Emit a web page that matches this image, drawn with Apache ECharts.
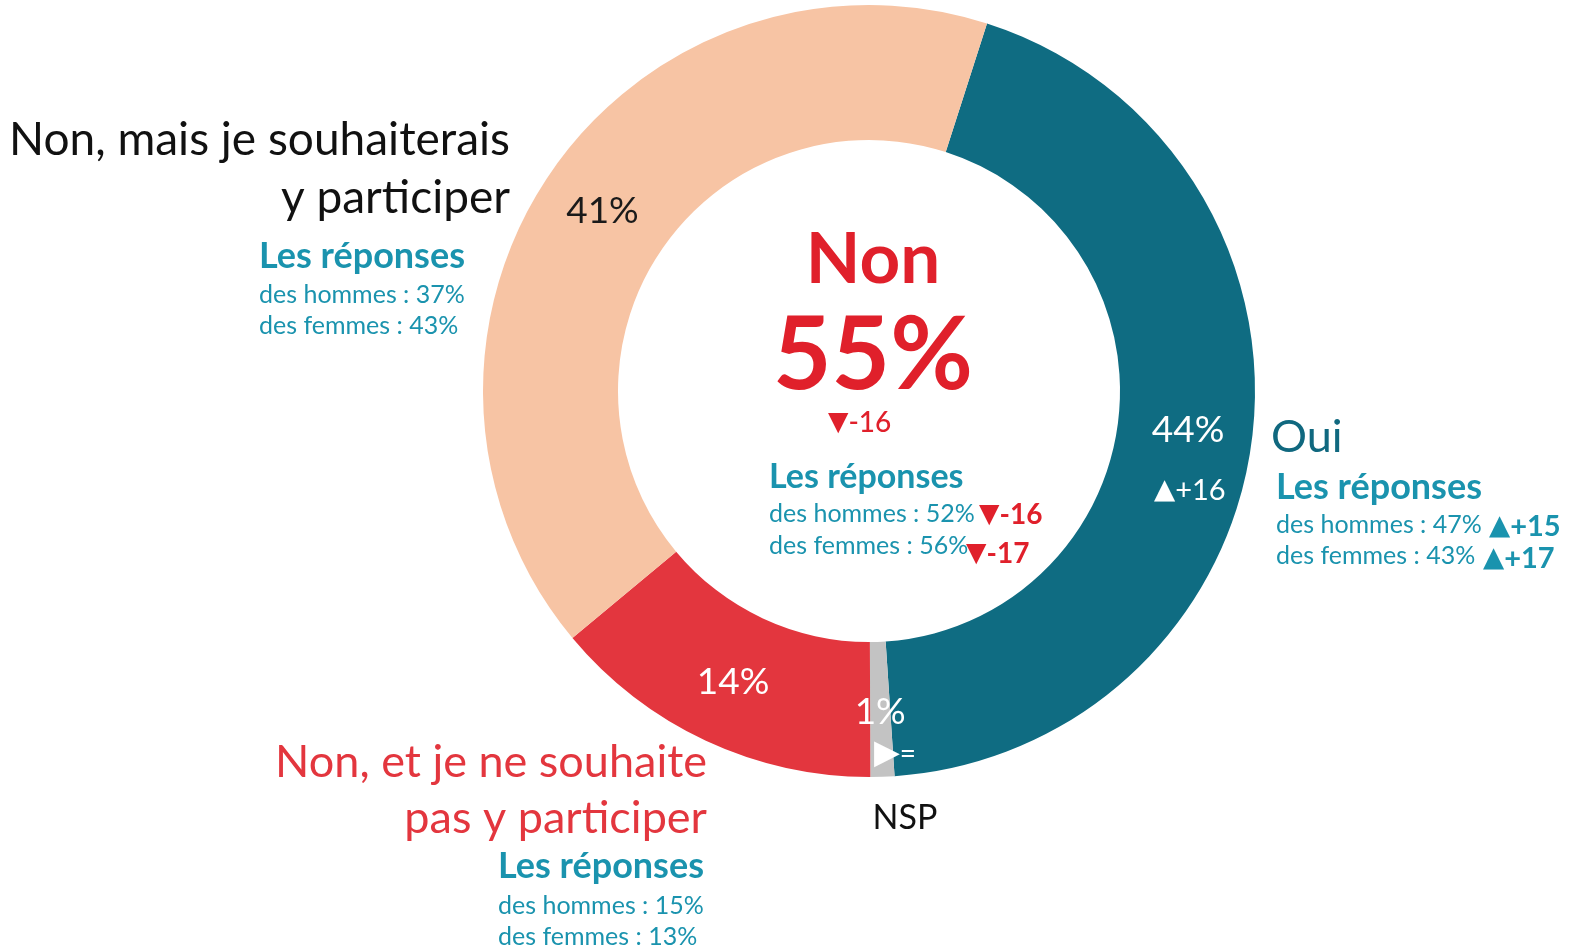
<!DOCTYPE html>
<html>
<head>
<meta charset="utf-8">
<script src="https://cdn.jsdelivr.net/npm/echarts@6/dist/echarts.min.js"></script>
<style>
  html, body { margin: 0; padding: 0; background: #ffffff; }
  #chart { width: 1571px; height: 952px; }
</style>
</head>
<body>
<div id="chart"></div>
<script>
// Survey answers, in the clockwise order of the ring
const categories = ['Oui', 'NSP', 'Non, et je ne souhaite pas y participer', 'Non, mais je souhaiterais y participer'];
const values = [44, 1, 14, 41];
const deltas = ['+16', '=', null, null];
const menShares = [47, null, 15, 37];
const womenShares = [43, null, 13, 43];
const menDeltas = ['+15', null, null, null];
const womenDeltas = ['+17', null, null, null];
// Combined "Non" block in the middle of the ring
const nonDelta = '-16';
const nonMenShare = 52, nonWomenShare = 56;
const nonMenDelta = '-16', nonWomenDelta = '-17';

const sliceColors = ['#0f6c82', '#c3c3c3', '#e3363e', '#f7c4a4'];
const labelColors = ['#ffffff', '#ffffff', '#ffffff', '#1a1a1a'];
const TEAL = '#1a93ae';
const RED = '#e0202b';
const FONT = 'Lato, "Noto Sans", sans-serif';

const nonTotal = values[2] + values[3];

function txt(x, y, text, size, color, opts) {
  opts = opts || {};
  return {
    type: 'text', x: x, y: y, z: 100, silent: true,
    style: {
      text: text, fill: color,
      fontSize: size, fontFamily: FONT, fontWeight: opts.weight || 'normal',
      align: opts.align || 'left', textAlign: opts.align || 'left',
      verticalAlign: 'middle', textVerticalAlign: 'middle'
    }
  };
}
// triangle marker + number
function delta(x, y, text, size, color, dir, weight, triScale) {
  const tri = dir === 'up' ? '\u25B2' : dir === 'down' ? '\u25BC' : '\u25B6';
  return {
    type: 'text', x: x, y: y, z: 100, silent: true,
    style: {
      text: '{t|' + tri + '}{n|' + text + '}',
      align: 'left', textAlign: 'left', verticalAlign: 'middle', textVerticalAlign: 'middle',
      rich: {
        t: { fontFamily: '"DejaVu Sans"', fontSize: size * (triScale || 0.95), fill: color, color: color },
        n: { fontFamily: FONT, fontSize: size, fontWeight: weight || 'normal', fill: color, color: color }
      }
    }
  };
}

const graphics = [
  // Non, mais je souhaiterais y participer
  txt(510, 140, 'Non, mais je souhaiterais', 46, '#111111', { align: 'right' }),
  txt(510, 198, 'y participer', 46, '#111111', { align: 'right' }),
  txt(259, 256, 'Les réponses', 36, TEAL, { weight: 'bold' }),
  txt(259, 295, 'des hommes : ' + menShares[3] + '%', 25, TEAL),
  txt(259, 326, 'des femmes : ' + womenShares[3] + '%', 25, TEAL),

  // centre block
  txt(873, 260, 'Non', 71, RED, { align: 'center', weight: 'bold' }),
  txt(873, 356, nonTotal + '%', 101, RED, { align: 'center', weight: 'bold' }),
  delta(828, 423, nonDelta, 28, RED, 'down', '500'),
  txt(769, 477, 'Les réponses', 34, TEAL, { weight: 'bold' }),
  txt(769, 514, 'des hommes : ' + nonMenShare + '%', 25, TEAL),
  delta(979, 515, nonMenDelta, 28, RED, 'down', 'bold'),
  txt(769, 546, 'des femmes : ' + nonWomenShare + '%', 25, TEAL),
  delta(966, 554, nonWomenDelta, 28, RED, 'down', 'bold'),

  // Oui
  txt(1271, 437, categories[0], 45, '#10687f'),
  delta(1154, 491, deltas[0], 29, '#ffffff', 'up'),
  txt(1276, 487, 'Les réponses', 36, TEAL, { weight: 'bold' }),
  txt(1276, 525, 'des hommes : ' + menShares[0] + '%', 25, TEAL),
  delta(1489, 527, menDeltas[0], 29, TEAL, 'up', 'bold'),
  txt(1276, 556, 'des femmes : ' + womenShares[0] + '%', 25, TEAL),
  delta(1483, 559, womenDeltas[0], 29, TEAL, 'up', 'bold'),

  // NSP
  delta(874, 754, deltas[1], 28, '#ffffff', 'right', 'normal', 1.2),
  txt(905, 818, categories[1], 34, '#111111', { align: 'center' }),

  // Non, et je ne souhaite pas y participer
  txt(707, 762, 'Non, et je ne souhaite', 45, '#e3363e', { align: 'right' }),
  txt(707, 818, 'pas y participer', 45, '#e3363e', { align: 'right' }),
  txt(498, 866, 'Les réponses', 36, TEAL, { weight: 'bold' }),
  txt(498, 906, 'des hommes : ' + menShares[2] + '%', 25, TEAL),
  txt(498, 937, 'des femmes : ' + womenShares[2] + '%', 25, TEAL)
];

const chart = echarts.init(document.getElementById('chart'), null, { renderer: 'canvas' });
chart.setOption({
  backgroundColor: '#ffffff',
  animation: false,
  series: [{
    type: 'pie',
    z: 2,
    center: [869, 391],
    radius: [251, 386],
    startAngle: 72.2,
    clockwise: true,
    avoidLabelOverlap: false,
    silent: true,
    label: {
      show: true,
      position: 'inside',
      formatter: '{c}%',
      fontFamily: FONT,
      fontSize: 37
    },
    labelLine: { show: false },
    data: categories.map(function (name, i) {
      return {
        name: name,
        value: values[i],
        itemStyle: { color: sliceColors[i] },
        label: { color: labelColors[i] }
      };
    })
  }],
  graphic: { elements: graphics }
});
</script>
</body>
</html>
